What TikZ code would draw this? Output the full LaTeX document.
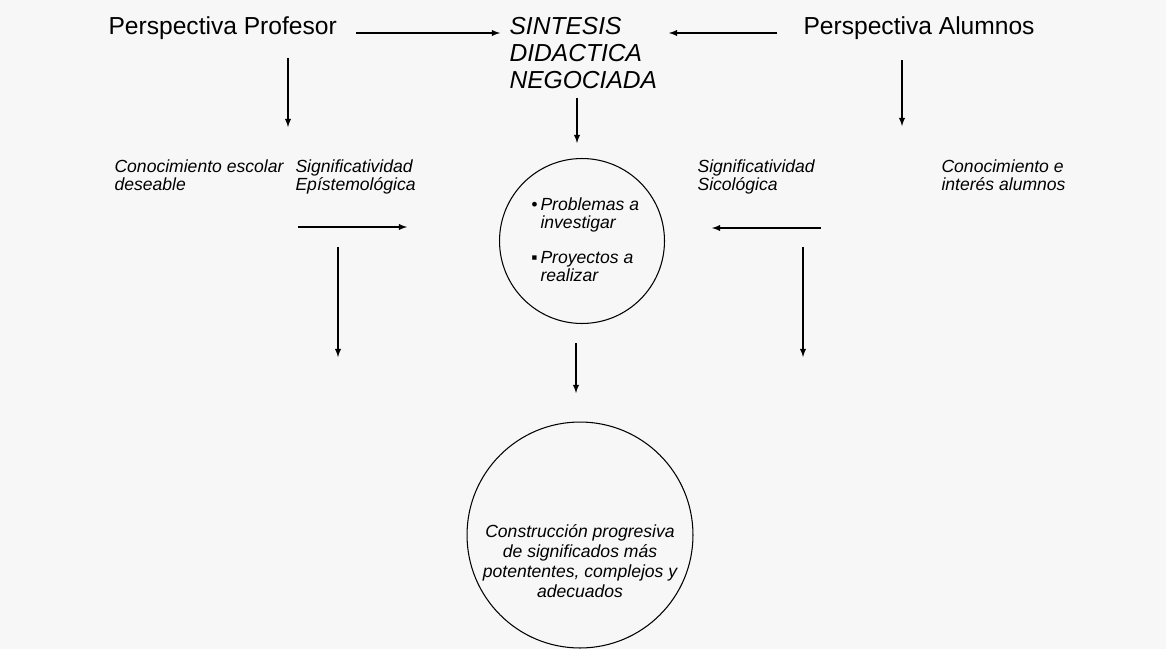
\documentclass[tikz,border=0pt]{standalone}
\usepackage{fontspec}
\setmainfont{Liberation Sans}
\usetikzlibrary{arrows,positioning}

\begin{document}
\begin{tikzpicture}[x=0.02cm,y=-0.02cm,semithick,>=latex,
  persp/.style={font=\fontsize{14}{15.3}\selectfont,inner sep=0pt,anchor=base west},
  sintesis/.style={font=\fontsize{14}{15.3}\selectfont\itshape,align=left,inner sep=0pt,anchor=north west},
  etiqueta/.style={font=\fontsize{10}{10.2}\selectfont\itshape,align=left,inner sep=0pt,anchor=north west},
  ronda/.style={circle,draw,inner sep=0pt}]
  \fill[black!3] (0,0) rectangle (1166,649);
  \useasboundingbox (0,0) rectangle (1166,649);

  % top row
  \node[persp] (prof) at (108,34) {Perspectiva Profesor};
  \node[sintesis] (sint) at (509,17) {SINTESIS\\DIDACTICA\\NEGOCIADA};
  \node[persp] (alum) at (803,34) {Perspectiva Alumnos};

  % labels
  \node[etiqueta] (cesc) at (114,159) {Conocimiento escolar\\deseable};
  \node[etiqueta] (sepi) at (295,159) {Significatividad\\Epístemológica};
  \node[etiqueta] (ssic) at (697,159) {Significatividad\\Sicológica};
  \node[etiqueta] (cint) at (941,159) {Conocimiento e\\interés alumnos};

  % circles
  \node[ronda,minimum size=3.3cm] (c1) at (582,241) {};
  \node[etiqueta] (items) at (540,197)
    {\llap{•\,}Problemas a\\investigar\\[10pt]\llap{▪\,}Proyectos a\\realizar};
  \node[ronda,minimum size=4.52cm] (c2) at (580,535) {};
  \node[font=\fontsize{10}{11.3}\selectfont\itshape,align=center] (constr) at (580,561)
    {Construcción progresiva\\de significados más\\potententes, complejos y\\adecuados};

  % arrow ends
  \coordinate (pa) at (356,33); \coordinate (pb) at (500,33);
  \coordinate (aa) at (777,33); \coordinate (ab) at (669,33);
  \coordinate (pd) at (288,58); \coordinate (pe) at (288,127);
  \coordinate (sd) at (577,98);
  \coordinate (ad) at (902,60); \coordinate (ae) at (902,126);
  \coordinate (ea) at (298,227); \coordinate (eb) at (407,227);
  \coordinate (ec) at (338,247); \coordinate (ed) at (338,357);
  \coordinate (sa) at (821,228); \coordinate (sb) at (712,228);
  \coordinate (sc) at (803,247); \coordinate (se) at (803,357);
  \coordinate (ca) at (576,343); \coordinate (cb) at (576,393);

  \path[->]
  (pa) edge (pb)
  (aa) edge (ab)
  (pd) edge (pe)
  (ad) edge (ae)
  (ea) edge (eb)
  (ec) edge (ed)
  (sa) edge (sb)
  (sc) edge (se)
  (ca) edge (cb);
  \draw[->,shorten >=0.3cm] (sd) -- (sd |- c1.north);
\end{tikzpicture}
\end{document}
